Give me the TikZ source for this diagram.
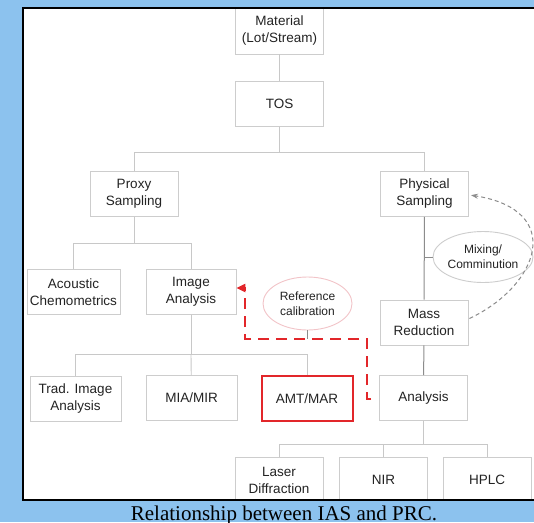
\documentclass[tikz,border=0pt]{standalone}
\usepackage{fontspec}
\setmainfont{Liberation Serif}
\newfontfamily\chartfont{Liberation Sans}
\usetikzlibrary{calc,arrows.meta,shapes.geometric}
\definecolor{slideblue}{RGB}{140,194,238}
\definecolor{boxgray}{RGB}{205,205,205}
\definecolor{linegray}{RGB}{200,200,200}
\definecolor{stemgray}{RGB}{140,140,140}
\definecolor{textgray}{RGB}{35,35,35}
\definecolor{calred}{RGB}{226,38,42}
\definecolor{calpink}{RGB}{242,196,200}

\begin{document}
\begin{tikzpicture}[x=1pt, y=-1pt,
    treebox/.style={draw=boxgray, line width=0.9pt, fill=white, align=center, inner sep=0pt,
      minimum width=88pt, minimum height=45pt, text=textgray,
      font=\chartfont\fontsize{13.5}{17}\selectfont},
    oval/.style={ellipse, draw=boxgray, line width=0.9pt, fill=white, align=center, inner sep=0pt,
      minimum width=90pt, minimum height=51pt, text=textgray,
      font=\chartfont\fontsize{12}{15}\selectfont},
    branch/.style={draw=linegray, line width=0.9pt},
    stem/.style={draw=stemgray, line width=1pt},
    refline/.style={draw=calred, line width=2.2pt, dash pattern=on 11pt off 7pt},
    loopline/.style={draw=stemgray, line width=1pt, dash pattern=on 4pt off 3pt}]
  \useasboundingbox (0,0) rectangle (534,522);
  \fill[slideblue] (0,0) rectangle (534,522);
  \begin{scope}
    \clip (23,8) rectangle (545,500);
    \fill[white] (23,8) rectangle (545,500);
    \node[treebox, minimum height=46pt] (mat) at (279.5,31) {Material\\(Lot/Stream)};
    \node[treebox] (tos) at (279.5,104) {TOS};
    \node[treebox] (proxy) at (134,194) {Proxy\\Sampling};
    \node[treebox] (phys) at (424.5,194) {Physical\\Sampling};
    \node[treebox, minimum width=93pt] (acou) at (73.5,292) {Acoustic\\Chemometrics};
    \node[treebox, minimum width=90pt] (img) at (191,292) {Image\\Analysis};
    \node[treebox] (mass) at (424,322.5) {Mass\\Reduction};
    \node[treebox, minimum width=91pt] (trad) at (75.5,399) {Trad. Image\\Analysis};
    \node[treebox, minimum width=91pt] (mia) at (191.5,398) {MIA/MIR};
    \node[treebox, minimum width=91pt, draw=calred, line width=2pt] (amt) at (307,398.5) {AMT/MAR};
    \node[treebox] (ana) at (423.5,398) {Analysis};
    \node[treebox, minimum height=46pt] (laser) at (279,480) {Laser\\Diffraction};
    \node[treebox, minimum height=46pt] (nir) at (383.5,480) {NIR};
    \node[treebox, minimum height=46pt] (hplc) at (487,480) {HPLC};
    \node[oval] (mix) at (483,257) {Mixing/\\Comminution};
    \node[oval, draw=calpink, minimum width=89pt, minimum height=53pt] (ref) at (307.5,303.5) {Reference\\calibration};

    \coordinate (j1) at (279.5,152);
    \coordinate (j2) at (134,243);
    \coordinate (j3) at (191,354);
    \coordinate (j4) at (423.5,444);
    \draw[branch] (mat) -- (tos);
    \draw[branch] (tos) -- (j1);
    \draw[branch] (j1) -| (proxy);
    \draw[branch] (j1) -| (phys);
    \draw[branch] (proxy) -- (j2);
    \draw[branch] (j2) -| (acou);
    \draw[branch] (j2) -| (img);
    \draw[branch] (img) -- (j3);
    \draw[branch] (j3) -| (trad);
    \draw[branch] (j3) -- (mia);
    \draw[branch] (j3) -| (amt);
    \draw[stem] (phys) -- (mass);
    \draw[stem] (mass) -- (ana);
    \draw[stem] (mix.west) -- (mix.west -| phys.south);
    \draw[branch] (ana) -- (j4);
    \draw[branch] (j4) -| (laser);
    \draw[branch] (j4) -| (nir);
    \draw[branch] (j4) -| (hplc);

    \coordinate (rc1) at (367,339);
    \coordinate (rc2) at (245,339);
    \draw[stem, line width=0.8pt] (ref.south) -- (ref.south |- rc1);
    \draw[refline, -{Triangle[length=9pt,width=8pt]}]
      ($(ana.west)+(-8,1)$) -| (rc1) -- (rc2) |- ($(img.east)+(0,-4)$);
    \draw[loopline, -{Stealth[length=7pt,width=5pt]}, shorten >=1pt]
      ($(mass.east)+(1,-4)$) .. controls (540,285) and (565,210) .. ($(phys.east)+(1,1)$);
  \end{scope}
  \draw[black, line width=2.5pt] (545,500) -- (23,500) -- (23,8) -- (545,8);
  \node[anchor=base, font=\fontsize{21}{24}\selectfont] (cap) at (284,520) {Relationship between IAS and PRC.};
\end{tikzpicture}
\end{document}
